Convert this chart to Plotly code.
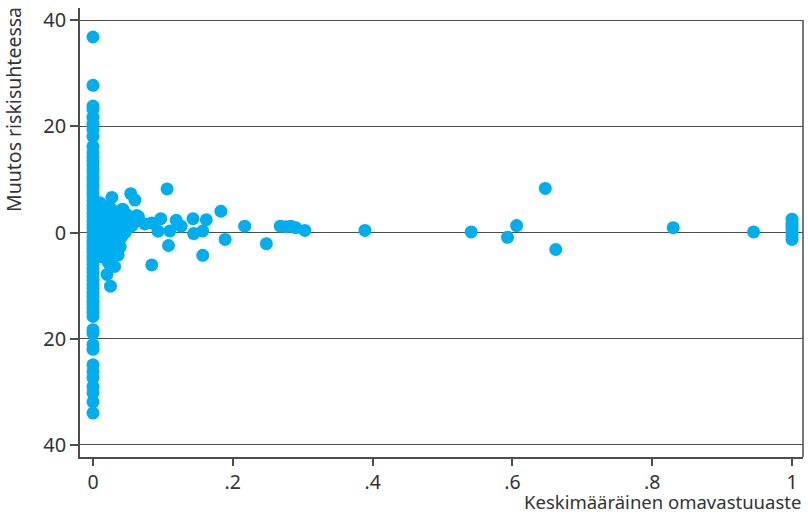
import plotly.graph_objects as go

# Observations sitting exactly at zero deductible (x = 0)
zero_y = [36.8, 27.7, 23.8, 23.2, 21.7, 20.4, 19.4, 18.1, 16.2, 15.0, 14.2, 13.5,
          12.8, 12.0, 11.3, 10.5, 9.8, 9.0, 8.3, 7.5, 6.8, 6.0, 5.2, 4.5, 3.7, 3.0,
          2.2, 1.5, 0.8, 0.0, -0.8, -1.5, -2.2, -3.0, -3.7, -4.5, -5.2, -6.0, -6.8,
          -7.5, -8.3, -9.0, -9.8, -10.5, -11.3, -12.0, -12.8, -13.5, -14.2, -15.0,
          -15.8, -18.3, -19.0, -21.1, -22.0, -24.9, -26.2, -27.4, -29.0, -30.2,
          -31.9, -34.0]

# Low-deductible cluster next to zero
near_x = [0.008, 0.012, 0.015, 0.010, 0.018, 0.022, 0.026, 0.030, 0.035, 0.040,
          0.045, 0.050, 0.055, 0.012, 0.016, 0.020, 0.025, 0.028, 0.033, 0.038,
          0.043, 0.010, 0.014, 0.019, 0.024, 0.029, 0.034, 0.009, 0.013, 0.017,
          0.021, 0.026, 0.031, 0.036, 0.041, 0.011, 0.015, 0.020, 0.025, 0.030,
          0.008, 0.013, 0.018, 0.023, 0.010, 0.024, 0.043, 0.031, 0.048, 0.065,
          0.046, 0.036, 0.024, 0.039, 0.022, 0.031, 0.020, 0.025, 0.052, 0.058,
          0.047, 0.038, 0.033]
near_y = [5.0, 4.6, 4.2, 3.5, 3.8, 4.9, 4.4, 3.6, 3.2, 2.8, 2.0, 1.5, 1.2, 2.6,
          1.9, 2.2, 1.6, 0.9, 1.3, 0.7, 0.2, 0.5, -0.2, -0.4, -0.1, -0.6, -1.0,
          -1.2, -1.8, -0.9, -1.5, -2.0, -2.3, -1.7, -0.8, -2.8, -3.2, -3.6, -3.0,
          -3.8, -4.1, -4.6, -2.5, -1.1, 5.6, 4.7, 4.3, 2.5, 3.4, 3.0, 0.0, -4.2,
          -2.6, -2.7, -5.7, -6.4, -7.9, -10.1, 2.4, 1.7, 1.0, -0.6, -1.4]

# Individual observations further out along the deductible axis
far_x = [0.027, 0.054, 0.060, 0.106, 0.042, 0.0625, 0.074, 0.084, 0.097, 0.093,
         0.119, 0.110, 0.126, 0.143, 0.144, 0.157, 0.162, 0.183, 0.189, 0.217,
         0.248, 0.268, 0.276, 0.283, 0.290, 0.303, 0.108, 0.157, 0.084, 0.389,
         0.541, 0.593, 0.606, 0.647, 0.662, 0.830, 0.945,
         1.0, 1.0, 1.0, 1.0, 1.0, 1.0, 1.0]
far_y = [6.6, 7.3, 6.1, 8.2, 4.4, 3.2, 1.6, 1.8, 2.6, 0.25, 2.3, 0.3, 1.2, 2.6,
         -0.2, 0.3, 2.4, 4.0, -1.3, 1.2, -2.1, 1.2, 1.1, 1.2, 0.9, 0.4, -2.45,
         -4.3, -6.1, 0.4, 0.1, -0.9, 1.3, 8.3, -3.2, 0.9, 0.1,
         2.5, 1.8, 1.2, 0.6, 0.0, -0.6, -1.3]

y_ticks = [-40, -20, 0, 20, 40]
y_tick_text = ["40", "20", "0", "20", "40"]
x_ticks = [0, 0.2, 0.4, 0.6, 0.8, 1]
x_tick_text = ["0", ".2", ".4", ".6", ".8", "1"]

xs = [0.0] * len(zero_y) + near_x + far_x
ys = zero_y + near_y + far_y

POINT = "#00AEEF"
INK = "#333333"
LINE = "#4d4d4d"
FONT = "Noto Sans"

y_lo, y_hi = -42.26, 42.26

fig = go.Figure(go.Scatter(
    x=xs, y=ys, mode="markers",
    marker=dict(color=POINT, size=13, line=dict(width=0)),
    hoverinfo="x+y",
))

fig.update_layout(
    width=808, height=516,
    margin=dict(l=80, r=5, t=8, b=59),
    paper_bgcolor="white", plot_bgcolor="white",
    showlegend=False,
    font=dict(family=FONT, color=INK, size=19),
    xaxis=dict(
        range=[-0.0186, 1.0157],
        tickvals=x_ticks, ticktext=x_tick_text,
        showgrid=False, zeroline=False,
        showline=True, linecolor=LINE, linewidth=1.5,
        ticks="outside", ticklen=7, tickcolor=LINE, tickwidth=1.5,
        tickfont=dict(family=FONT, size=19.5, color=INK),
    ),
    yaxis=dict(
        range=[y_lo, y_hi],
        tickvals=y_ticks, ticktext=y_tick_text,
        showgrid=True, gridcolor=LINE, gridwidth=1,
        zeroline=False,
        showline=True, linecolor=LINE, linewidth=1.5,
        ticks="outside", ticklen=8, tickcolor=LINE, tickwidth=1.5,
        tickfont=dict(family=FONT, size=20, color=INK),
    ),
    shapes=[dict(type="line", xref="paper", yref="y",
                 x0=1, x1=1, y0=y_lo, y1=40,
                 line=dict(color=LINE, width=1.5))],
    annotations=[
        dict(text="Muutos riskisuhteessa", xref="paper", yref="paper",
             x=0, y=1, xanchor="right", yanchor="top",
             xshift=-51, yshift=3, textangle=-90, showarrow=False,
             font=dict(family=FONT, size=19.5, color=INK)),
        dict(text="Keskimääräinen omavastuuaste", xref="paper", yref="paper",
             x=1, y=0, xanchor="right", yanchor="bottom",
             xshift=0, yshift=-59, showarrow=False,
             font=dict(family=FONT, size=18.5, color=INK)),
    ],
)

fig.write_html("out.html")
